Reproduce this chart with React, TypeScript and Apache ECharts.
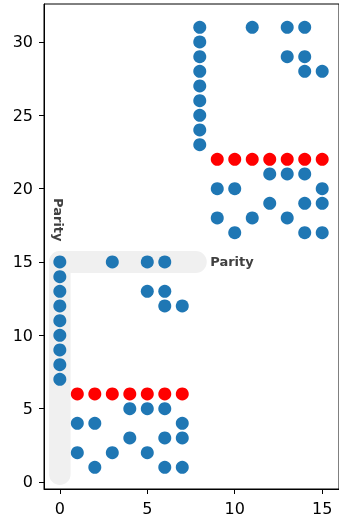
import React, { useEffect, useRef } from "react";
import * as echarts from "echarts";

const xTicks = [0, 5, 10, 15];
const yTicks = [0, 5, 10, 15, 20, 25, 30];

// blue points [x, y]
const blueLowLeft: number[][] = [
  [0, 7], [0, 8], [0, 9], [0, 10], [0, 11], [0, 12], [0, 13], [0, 14], [0, 15],
  [3, 15], [5, 15], [6, 15],
  [5, 13], [6, 13],
  [6, 12], [7, 12],
  [4, 5], [5, 5], [6, 5],
  [1, 4], [2, 4], [7, 4],
  [4, 3], [6, 3], [7, 3],
  [1, 2], [3, 2], [5, 2],
  [2, 1], [6, 1], [7, 1],
];
const blueUpRight: number[][] = [
  [8, 23], [8, 24], [8, 25], [8, 26], [8, 27], [8, 28], [8, 29], [8, 30], [8, 31],
  [11, 31], [13, 31], [14, 31],
  [13, 29], [14, 29],
  [14, 28], [15, 28],
  [12, 21], [13, 21], [14, 21],
  [9, 20], [10, 20], [15, 20],
  [12, 19], [14, 19], [15, 19],
  [9, 18], [11, 18], [13, 18],
  [10, 17], [14, 17], [15, 17],
];
// red points [x, y]
const redPoints: number[][] = [
  [1, 6], [2, 6], [3, 6], [4, 6], [5, 6], [6, 6], [7, 6],
  [9, 22], [10, 22], [11, 22], [12, 22], [13, 22], [14, 22], [15, 22],
];
// grey "Parity" bracket: two rounded bands (corner points in data units)
const vBand: number[][] = [[-0.615, 15.75], [0.615, -0.2]];
const hBand: number[][] = [[-0.615, 15.75], [8.4, 14.25]];
const labelText = "Parity";
const hLabelAt = [8.6, 15];
const vLabelAt = [0, 19.36];

export default function App() {
  const ref = useRef<HTMLDivElement>(null);
  useEffect(() => {
    if (!ref.current) return;
    const chart = echarts.init(ref.current, null, { renderer: "svg" });
    const axisCommon = {
      type: "value" as const,
      axisLine: { show: true, onZero: false, lineStyle: { color: "#000", width: 1 } },
      splitLine: { show: false },
    };
    chart.setOption({
      animation: false,
      grid: {
        left: 44, right: -3, top: 4, bottom: 32,
        show: true, borderColor: "#000", borderWidth: 1, backgroundColor: "transparent",
      },
      xAxis: {
        ...axisCommon,
        min: -0.905, max: 15.96,
        axisTick: { show: true, length: 5, customValues: xTicks, lineStyle: { color: "#000" } },
        axisLabel: {
          customValues: xTicks, margin: 11, fontSize: 16, color: "#000",
          fontFamily: "DejaVu Sans",
        },
      },
      yAxis: {
        ...axisCommon,
        min: -0.48, max: 32.59,
        axisTick: { show: true, length: 5, customValues: yTicks, lineStyle: { color: "#000" } },
        axisLabel: {
          customValues: yTicks, margin: 11, fontSize: 16, color: "#000",
          fontFamily: "DejaVu Sans",
        },
      },
      series: [
        {
          type: "scatter",
          data: [...blueLowLeft, ...blueUpRight],
          symbolSize: 13,
          z: 3,
          itemStyle: { color: "#1f77b4", opacity: 1 },
        },
        {
          type: "scatter",
          data: redPoints,
          symbolSize: 13,
          z: 3,
          itemStyle: { color: "#ff0000", opacity: 1 },
        },
      ],
    });
    const px = (p: number[]) => chart.convertToPixel({ gridIndex: 0 }, p) as number[];
    const band = (b: number[][]) => {
      const a = px(b[0]);
      const c = px(b[1]);
      const w = c[0] - a[0];
      const h = c[1] - a[1];
      return {
        type: "rect",
        z: 0,
        silent: true,
        shape: { x: a[0], y: a[1], width: w, height: h, r: Math.min(w, h) / 2 },
        style: { fill: "#f0f0f0" },
      };
    };
    const hp = px(hLabelAt);
    const vp = px(vLabelAt);
    chart.setOption({
      graphic: [
        band(vBand),
        band(hBand),
        {
          type: "text",
          x: hp[0], y: hp[1],
          z: 10,
          style: {
            text: labelText, font: 'bold 13px "DejaVu Sans"', fill: "#404040",
            align: "left", verticalAlign: "middle",
          },
        },
        {
          type: "text",
          x: vp[0] - 1.5, y: vp[1],
          rotation: -Math.PI / 2,
          z: 10,
          style: {
            text: labelText, font: 'bold 13px "DejaVu Sans"', fill: "#404040",
            align: "left", verticalAlign: "middle",
          },
        },
      ],
    });
    return () => chart.dispose();
  }, []);
  return (
    <div
      ref={ref}
      style={{ position: "fixed", left: 0, top: 0, width: 339, height: 521 }}
    />
  );
}
